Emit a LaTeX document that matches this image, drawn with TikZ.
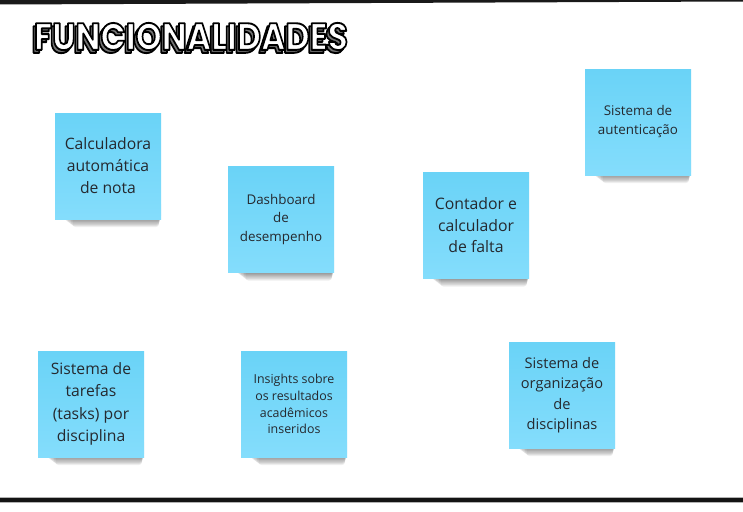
\documentclass[tikz,border=0pt]{standalone}
\usepackage{fontspec}
\setmainfont{Open Sans}
\newfontfamily\titlefont{Poppins}
\definecolor{notetop}{HTML}{6AD3F7}
\definecolor{notebot}{HTML}{84DDFC}
\definecolor{ink}{HTML}{25292F}
\definecolor{ttlshade}{HTML}{7A7A7A}
\newcommand\ttlbox{\resizebox{314pt}{27pt}{\titlefont\bfseries FUNCIONALIDADES}}
\newcommand\ttlstroke[1]{\special{pdf:literal direct 2 Tr 0.5 w 1 j 0 0 0 RG #1 rg}}
\newcommand\fs[2]{\fontsize{#1pt}{#2pt}\selectfont}
\tikzset{
  note/.style={minimum width=106pt, minimum height=106pt, inner sep=0pt,
    top color=notetop, bottom color=notebot, draw=none, align=center, text=ink},
  ttl/.style={inner sep=0pt, anchor=center},
  shadowlayer/.style={fill=black, opacity=0.065, rounded corners=3pt}
}
\begin{document}
\begin{tikzpicture}[x=1pt,y=-1pt]
\useasboundingbox (0,0) rectangle (743,511);
\fill[white] (0,0) rectangle (743,511);
% frame lines
\fill[black!90] (0,0) -- (743,0) -- (743,1.5) -- (0,4.5) -- cycle;
\fill[gray!60] (0,496.5) rectangle (743,502.5);
\fill[black!92] (0,497.5) rectangle (743,501.5);
% title
\node[ttl, text=ttlshade] (tshade) at (188.5,39.5) {\ttlstroke{0.45 0.45 0.45}\ttlbox};
\node[ttl, text=white] (title) at (191,36.5) {\ttlstroke{1 1 1}\ttlbox};
% shadows under notes
\foreach \cx/\cy in {108/166, 281/219.5, 476/225.5, 638/122, 91/404, 294/404, 562/395}{
  \foreach \k in {0,...,7}
    \fill[shadowlayer] ({\cx-46+\k*1.5},{\cy+35}) rectangle ({\cx+53-\k*0.3},{\cy+53+\k*1.15});
}
% notes
\node[note, font=\fs{15.7}{22}] (n1) at (108,166) {Calculadora\\automática\\de nota};
\node[note, font=\fs{13.4}{18.5}] (n2) at (281,219.5) {Dashboard\\de\\desempenho};
\node[note, font=\fs{15.8}{21.5}] (n3) at (476,225.5) {Contador e\\calculador\\de falta};
\node[note, font=\fs{13.4}{19}] (n4) at (638,122) {Sistema de\\autenticação};
\node[note, font=\fs{15.7}{22.5}] (n5) at (91,404) {Sistema de\\tarefas\\(tasks) por\\disciplina};
\node[note, font=\fs{12.4}{16.7}] (n6) at (294,404) {Insights sobre\\os resultados\\acadêmicos\\inseridos};
\node[note, font=\fs{14.6}{20.5}] (n7) at (562,395) {Sistema de\\organização\\de\\disciplinas};
\end{tikzpicture}
\end{document}
